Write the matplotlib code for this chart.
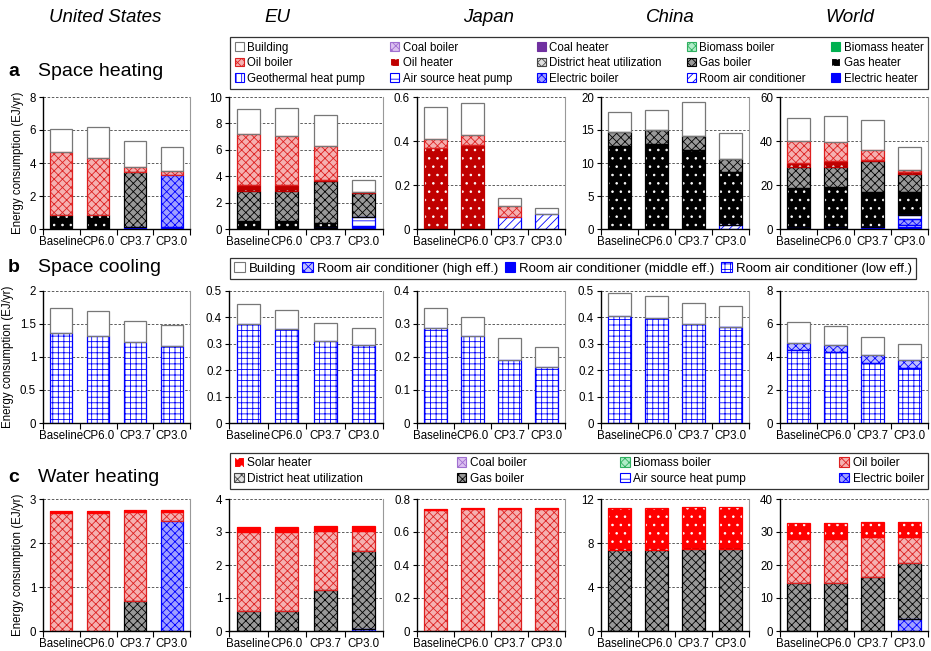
import matplotlib
matplotlib.use("Agg")
import matplotlib.pyplot as plt
from matplotlib.patches import Patch
from matplotlib.ticker import FixedLocator, FuncFormatter

plt.rcParams['font.family'] = ['Liberation Sans', 'DejaVu Sans']
plt.rcParams['hatch.linewidth'] = 0.6

SCENARIOS = ['Baseline', 'CP6.0', 'CP3.7', 'CP3.0']
REGIONS = ['United States', 'EU', 'Japan', 'China', 'World']

# ---- space heating (segment heights, EJ/yr), bottom to top ----
heat_us = {
    'Electric heater': [0, 0, 0.15, 0.15],
    'Electric boiler': [0, 0, 0, 3.12],
    'Gas heater': [0.85, 0.85, 0, 0],
    'Gas boiler': [0, 0, 3.32, 0],
    'Oil boiler': [3.81, 3.48, 0.26, 0.24],
    'Building': [1.43, 1.86, 1.61, 1.47],
}
heat_eu = {
    'Electric heater': [0, 0, 0.1, 0.2],
    'Air source heat pump': [0, 0, 0, 0.7],
    'Gas heater': [0.63, 0.6, 0.38, 0],
    'Gas boiler': [2.27, 2.3, 3.15, 1.8],
    'Oil heater': [0.42, 0.42, 0.05, 0.12],
    'Oil boiler': [3.86, 3.71, 2.64, 0],
    'Building': [1.89, 2.16, 2.35, 0.93],
}
heat_jp = {
    'Room air conditioner': [0, 0, 0.053, 0.068],
    'Oil heater': [0.37, 0.381, 0, 0],
    'Oil boiler': [0.038, 0.045, 0.051, 0],
    'Building': [0.147, 0.148, 0.035, 0.026],
}
heat_cn = {
    'Room air conditioner': [0, 0, 0, 0.6],
    'Gas heater': [12.6, 12.85, 12.04, 8.06],
    'Gas boiler': [2.1, 2.11, 2.01, 2.02],
    'Building': [3.1, 3.14, 5.19, 3.92],
}
heat_world = {
    'Electric heater': [0.3, 0.3, 0.7, 1.0],
    'Room air conditioner': [0, 0, 0, 1.0],
    'Electric boiler': [0, 0, 0, 2.5],
    'Air source heat pump': [0, 0, 0, 1.9],
    'Gas heater': [18.5, 19.0, 16.3, 10.2],
    'Gas boiler': [9.3, 8.8, 13.7, 8.3],
    'Oil heater': [2.1, 2.6, 0.8, 0.8],
    'Oil boiler': [9.6, 8.7, 4.5, 1.2],
    'Building': [10.7, 11.8, 13.7, 10.3],
}

# ---- space cooling ----
cool_us = {
    'RAC low': [1.36, 1.32, 1.22, 1.17],
    'Building': [0.38, 0.37, 0.33, 0.32],
}
cool_eu = {
    'RAC low': [0.374, 0.355, 0.312, 0.296],
    'Building': [0.076, 0.073, 0.066, 0.063],
}
cool_jp = {
    'RAC low': [0.287, 0.265, 0.191, 0.169],
    'Building': [0.061, 0.057, 0.066, 0.061],
}
cool_cn = {
    'RAC low': [0.406, 0.397, 0.375, 0.362],
    'RAC middle': [0, 0, 0, 0.003],
    'Building': [0.085, 0.084, 0.078, 0.078],
}
cool_world = {
    'RAC low': [4.45, 4.33, 3.63, 3.33],
    'RAC high': [0.42, 0.39, 0.48, 0.5],
    'Building': [1.24, 1.17, 1.09, 0.95],
}

# ---- water heating ----
water_us = {
    'Electric boiler': [0, 0, 0, 2.51],
    'Gas boiler': [0, 0, 0.68, 0],
    'Oil boiler': [2.68, 2.68, 2.02, 0.19],
    'Solar heater': [0.05, 0.05, 0.06, 0.06],
}
water_eu = {
    'Electric boiler': [0, 0, 0, 0.05],
    'Gas boiler': [0.62, 0.62, 1.23, 2.38],
    'Oil boiler': [2.37, 2.37, 1.79, 0.59],
    'Solar heater': [0.17, 0.17, 0.16, 0.16],
}
water_jp = {
    'Oil boiler': [0.735, 0.738, 0.74, 0.742],
    'Solar heater': [0.005, 0.005, 0.005, 0.005],
}
water_cn = {
    'Gas boiler': [7.38, 7.38, 7.47, 7.47],
    'Solar heater': [3.79, 3.79, 3.76, 3.83],
}
water_world = {
    'Electric boiler': [0, 0, 0, 3.7],
    'Gas boiler': [14.6, 14.6, 16.4, 16.9],
    'Oil boiler': [13.4, 13.4, 12.0, 7.8],
    'Solar heater': [4.7, 4.7, 4.5, 4.6],
}

# y axis limits and tick steps per panel
heat_ylim = [(8, 2), (10, 2), (0.6, 0.2), (20, 5), (60, 20)]
cool_ylim = [(2, 0.5), (0.5, 0.1), (0.4, 0.1), (0.5, 0.1), (8, 2)]
water_ylim = [(3, 1), (4, 1), (0.8, 0.2), (12, 4), (40, 10)]

heat_legend_rows = [
    ['Building', 'Coal boiler', 'Coal heater', 'Biomass boiler', 'Biomass heater'],
    ['Oil boiler', 'Oil heater', 'District heat utilization', 'Gas boiler', 'Gas heater'],
    ['Geothermal heat pump', 'Air source heat pump', 'Electric boiler',
     'Room air conditioner', 'Electric heater'],
]
cool_legend = ['Building', 'RAC high', 'RAC middle', 'RAC low']
cool_labels = ['Building', 'Room air conditioner (high eff.)',
               'Room air conditioner (middle eff.)', 'Room air conditioner (low eff.)']
water_legend_rows = [
    ['Solar heater', 'Coal boiler', 'Biomass boiler', 'Oil boiler'],
    ['District heat utilization', 'Gas boiler', 'Air source heat pump', 'Electric boiler'],
]

# face colour, hatch, hatch colour, outline colour
STYLE = {
    'Building': ('white', None, '#777777', '#777777'),
    'Coal boiler': ('#dcc0f0', 'xxxx', '#a070d0', '#a070d0'),
    'Coal heater': ('#7030a0', None, '#7030a0', '#7030a0'),
    'Biomass boiler': ('#b0ecc8', 'xxxx', '#30b060', '#30b060'),
    'Biomass heater': ('#00b050', None, '#00b050', '#00b050'),
    'Oil boiler': ('#f5b0b0', 'xxxx', '#dd2020', '#dd2020'),
    'Oil heater': ('#c00000', '..', 'white', '#c00000'),
    'District heat utilization': ('#e0e0e0', 'xxxx', '#444444', '#444444'),
    'Gas boiler': ('#999999', 'xxxx', 'black', 'black'),
    'Gas heater': ('black', '..', 'white', 'black'),
    'Geothermal heat pump': ('white', '|||', '#0000ff', '#0000ff'),
    'Air source heat pump': ('white', '--', '#0000ff', '#0000ff'),
    'Electric boiler': ('#a0a0ff', 'xxxx', '#0000ff', '#0000ff'),
    'Room air conditioner': ('white', '////', '#0000ff', '#0000ff'),
    'Electric heater': ('#0000ff', None, '#0000ff', '#0000ff'),
    'RAC high': ('#c0c0ff', 'xxxx', '#0000ff', '#0000ff'),
    'RAC middle': ('#0000ff', None, '#0000ff', '#0000ff'),
    'RAC low': ('white', '+++', '#0000ff', '#0000ff'),
    'Solar heater': ('#ff0000', '..', 'white', '#ff0000'),
}

W, H = 931, 651
COL_X = [(43, 190), (229, 383), (417, 565), (601, 749), (780, 928)]
ROW_Y = [(97, 229), (291, 423), (499, 631)]


def make_ax(fig, row, col):
    x0, x1 = COL_X[col]
    y0, y1 = ROW_Y[row]
    return fig.add_axes([x0 / W, 1 - y1 / H, (x1 - x0) / W, (y1 - y0) / H])


def draw_panel(ax, data, ylim):
    x = list(range(1, len(SCENARIOS) + 1))
    bottom = [0.0] * len(x)
    for comp, vals in data.items():
        fc, hatch, hc, ec = STYLE[comp]
        for i, v in enumerate(vals):
            if v <= 0:
                continue
            ax.bar(x[i], v, bottom=bottom[i], width=0.6, color=fc, hatch=hatch,
                   edgecolor=hc, linewidth=0, zorder=2)
            ax.bar(x[i], v, bottom=bottom[i], width=0.6, fill=False,
                   edgecolor=ec, linewidth=0.9, zorder=3)
            bottom[i] += v
    top, step = ylim
    ax.set_xlim(0.5, 4.5)
    ax.set_ylim(0, top)
    n = int(round(top / step))
    ax.yaxis.set_major_locator(FixedLocator([step * k for k in range(n + 1)]))
    ax.yaxis.set_major_formatter(FuncFormatter(lambda v, p: '%g' % round(v, 3)))
    ax.set_xticks(x)
    ax.set_xticklabels(SCENARIOS, fontsize=8.3)
    ax.xaxis.set_minor_locator(FixedLocator([0.5, 1.5, 2.5, 3.5, 4.5]))
    ax.tick_params(axis='x', which='major', length=0, pad=5)
    ax.tick_params(axis='x', which='minor', length=4, direction='out', width=0.8)
    ax.tick_params(axis='y', labelsize=8.3, length=3, width=0.8, pad=2)
    ax.yaxis.grid(True, linestyle=(0, (3, 2)), color='#444444', linewidth=0.6, zorder=0)
    ax.set_axisbelow(True)
    ax.spines['top'].set_visible(False)
    ax.spines['right'].set_color('#999999')
    ax.spines['right'].set_linewidth(0.8)
    ax.spines['left'].set_linewidth(1.0)
    ax.spines['bottom'].set_linewidth(1.0)


def handle(comp):
    fc, hatch, hc, ec = STYLE[comp]
    return Patch(facecolor=fc, hatch=hatch, edgecolor=hc if hatch else ec, linewidth=0.8)


def style_legend(leg):
    leg.get_frame().set_edgecolor('black')
    leg.get_frame().set_linewidth(0.9)


fig = plt.figure(figsize=(W / 100, H / 100), dpi=100)

panels = [
    [heat_us, heat_eu, heat_jp, heat_cn, heat_world],
    [cool_us, cool_eu, cool_jp, cool_cn, cool_world],
    [water_us, water_eu, water_jp, water_cn, water_world],
]
limits = [heat_ylim, cool_ylim, water_ylim]

for r in range(3):
    for c in range(5):
        ax = make_ax(fig, r, c)
        draw_panel(ax, panels[r][c], limits[r][c])
        if c == 0:
            ax.set_ylabel('Energy consumption (EJ/yr)', fontsize=8.3, labelpad=4)

# column titles
title_x = [105, 277, 488, 670, 850]
for name, tx in zip(REGIONS, title_x):
    fig.text(tx / W, 1 - 18 / H, name, fontsize=13.5, style='italic',
             ha='center', va='center')

# row labels
for letter, label, ty in [('a', 'Space heating', 72), ('b', 'Space cooling', 268),
                          ('c', 'Water heating', 477)]:
    fig.text(8 / W, 1 - ty / H, letter, fontsize=14, fontweight='bold', va='center')
    fig.text(38 / W, 1 - ty / H, label, fontsize=14, va='center')

common = dict(frameon=True, fancybox=False, borderaxespad=0,
              handlelength=0.8, handleheight=0.8, handletextpad=0.3)

# legend a (filled column by column)
cols_a = [[row[k] for row in heat_legend_rows] for k in range(5)]
order_a = [item for col in cols_a for item in col]
leg = fig.legend([handle(k) for k in order_a], order_a, ncol=5, loc='upper left',
                 bbox_to_anchor=(230 / W, 1 - 90 / H, 698 / W, 53 / H), mode='expand',
                 prop={'size': 8.3}, labelspacing=0.3, borderpad=0.4,
                 columnspacing=0.5, **common)
style_legend(leg)

# legend b
leg = fig.legend([handle(k) for k in cool_legend], cool_labels, ncol=4, loc='upper left',
                 bbox_to_anchor=(230 / W, 1 - 258 / H), prop={'size': 9.5},
                 borderpad=0.3, columnspacing=0.5, **common)
style_legend(leg)

# legend c
cols_c = [[row[k] for row in water_legend_rows] for k in range(4)]
order_c = [item for col in cols_c for item in col]
leg = fig.legend([handle(k) for k in order_c], order_c, ncol=4, loc='upper left',
                 bbox_to_anchor=(230 / W, 1 - 493 / H, 698 / W, 40 / H), mode='expand',
                 prop={'size': 8.6}, labelspacing=0.3, borderpad=0.35,
                 columnspacing=0.5, **common)
style_legend(leg)

fig.savefig('out.png', dpi=100)
